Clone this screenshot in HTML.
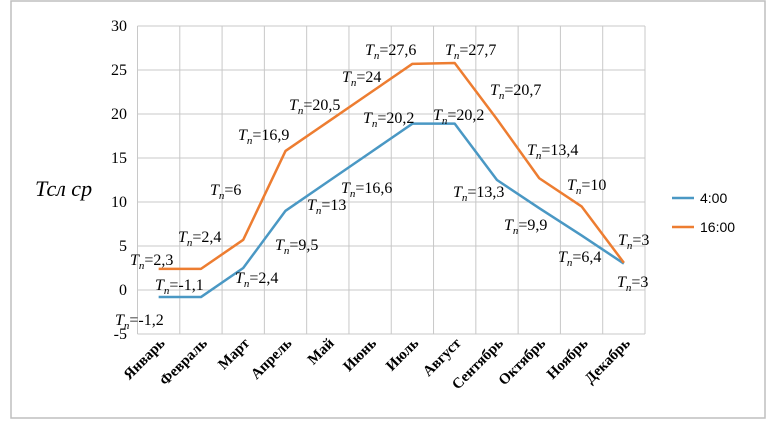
<!DOCTYPE html>
<html><head><meta charset="utf-8"><style>
html,body{margin:0;padding:0;background:#fff;}
svg, svg text{font-family:"Liberation Serif","Noto Serif CJK SC","Times New Roman",serif;}
</style></head><body>
<svg id="chart" width="774" height="426" viewBox="0 0 774 426">
<rect x="11" y="1" width="754" height="417" fill="#fff" stroke="#bfbfbf" stroke-width="1.5"/>
<g id="grid"></g>
<g id="yticks"></g>
<g id="xticks"></g>
<g id="series"></g>
<g id="labels"></g>
<text x="35" y="196" font-size="22" font-style="italic">Тсл ср</text>
<g>
<g><line x1="672" y1="198" x2="694" y2="198" stroke="#4a98c4" stroke-width="2.5"/><text x="700" y="203" font-size="14" style="font-family:'Liberation Sans',sans-serif">4:00</text></g>
<g><line x1="672" y1="227" x2="694" y2="227" stroke="#ed7d31" stroke-width="2.5"/><text x="700" y="232" font-size="14" style="font-family:'Liberation Sans',sans-serif">16:00</text></g>
</g>
</svg>
<script>
const categories = ["Январь","Февраль","Март","Апрель","Май","Июнь","Июль","Август","Сентябрь","Октябрь","Ноябрь","Декабрь"];
const series4 = [-0.8,-0.8,2.5,9,12.3,15.6,18.9,18.9,12.5,9.3,6.2,3];
const series16 = [2.4,2.4,5.7,15.8,19.1,22.4,25.7,25.8,19.4,12.7,9.5,3.1];
const yTicks = [-5,0,5,10,15,20,25,30];
const labels4 = ["-1,1","2,4","9,5","13","16,6","20,2","20,2","13,3","9,9","6,4","3","-1,2"];
const labels16 = ["2,3","2,4","6","16,9","20,5","24","27,6","27,7","20,7","13,4","10","3"];

const NS="http://www.w3.org/2000/svg";
const L=137.5,R=645,T=26,B=334,yMin=-5,yMax=30;
const bw=(R-L)/categories.length;
function xPos(i){return L+bw*(i+0.5);}
function yPos(v){return B-(v-yMin)/(yMax-yMin)*(B-T);}
function mk(tag,attrs,parent){const e=document.createElementNS(NS,tag);for(const k in attrs)e.setAttribute(k,attrs[k]);parent.appendChild(e);return e;}
const grid=document.getElementById('grid');
yTicks.forEach(v=>{const l=mk('line',{x1:L,x2:R,y1:yPos(v),y2:yPos(v),stroke:'#c8c8c8','stroke-width':1},grid);

});
for(let i=0;i<=categories.length;i++){const x=L+bw*i;const l=mk('line',{x1:x,x2:x,y1:T,y2:B,stroke:'#c8c8c8','stroke-width':1},grid);

}
const yt=document.getElementById('yticks');
yTicks.forEach(v=>{const t=mk('text',{x:127,y:yPos(v)+5,'font-size':16,'text-anchor':'end'},yt);t.textContent=String(v);

});
const xt=document.getElementById('xticks');
categories.forEach((c,i)=>{const x=xPos(i)+7,y=B+10;const t=mk('text',{x:x,y:y,'font-size':15,'font-weight':'bold','text-anchor':'end',transform:`rotate(-45 ${x} ${y})`},xt);t.textContent=c;

});
const sg=document.getElementById('series');
[[series4,'#4a98c4','series-4-00'],[series16,'#ed7d31','series-16-00']].forEach(([s,col,name])=>{
const p=mk('polyline',{points:s.map((v,i)=>xPos(i)+','+yPos(v)).join(' '),fill:'none',stroke:col,'stroke-width':2.5,'stroke-linejoin':'round'},sg);

});
// label anchor positions (annotation placement)
const pos4=[[155,290],[235,283],[275,250],[307,210],[341,193],[363,123],[433,120],[453,197],[504,230],[558,262],[617,287],[115,325]];
const pos16=[[130,265],[178,242],[210,195],[238,140],[289,110],[342,82],[365,55],[445,55],[490,95],[527,155],[567,190],[618,245]];
const lg=document.getElementById('labels');
function lab(txt,p){const t=mk('text',{x:p[0],y:p[1],'font-size':16},lg);
const a=document.createElementNS(NS,'tspan');a.setAttribute('font-style','italic');a.textContent='T';t.appendChild(a);
const b=document.createElementNS(NS,'tspan');b.setAttribute('font-style','italic');b.setAttribute('font-size','11');b.setAttribute('dy','4');b.textContent='n';t.appendChild(b);
const c=document.createElementNS(NS,'tspan');c.setAttribute('dy','-4');c.textContent='='+txt;t.appendChild(c);

}
labels4.forEach((s,i)=>lab(s,pos4[i]));
labels16.forEach((s,i)=>lab(s,pos16[i]));
</script>
</body></html>
